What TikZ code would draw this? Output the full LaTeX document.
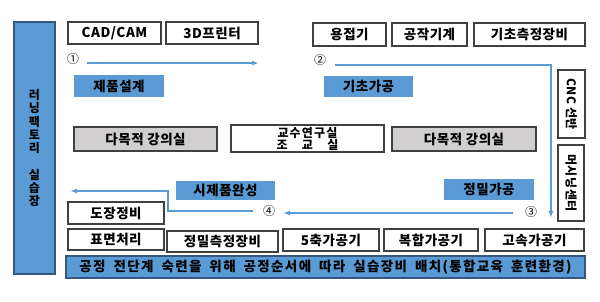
\documentclass[tikz,border=0pt]{standalone}
\usepackage{fontspec}
\setmainfont{Noto Sans CJK KR}[LetterSpace=4]
\newfontfamily\spreadfont{Noto Sans CJK KR}[LetterSpace=10]
\newfontfamily\bannerfont{Noto Sans CJK KR}[LetterSpace=10, WordSpace=1.8]
\usepackage{tikz}
\usetikzlibrary{arrows.meta}

\definecolor{stageblue}{RGB}{91,155,213}
\definecolor{hallgray}{RGB}{208,206,206}
\definecolor{edgegray}{RGB}{64,64,64}
\definecolor{bardark}{RGB}{56,87,128}

\begin{document}
\begin{tikzpicture}[x=1pt, y=-1pt,
    every node/.style={inner sep=0pt, font=\fontsize{13.5}{14}\selectfont\bfseries},
    equip/.style={draw=edgegray, line width=1.1pt, fill=white},
    hall/.style={draw=edgegray, line width=1.1pt, fill=hallgray},
    stage/.style={fill=stageblue},
    banner/.style={draw=bardark, line width=1.1pt, fill=stageblue},
    stepnum/.style={font=\fontsize{12}{12}\selectfont},
    flow/.style={draw=stageblue, line width=1.4pt, -{Latex[length=7pt, width=5pt]}}]
    \useasboundingbox (0,0) rectangle (600,301);

    % Left column
    \node[banner, minimum width=41, minimum height=252, align=center,
          font=\fontsize{12}{13.25}\selectfont\bfseries] (lab) at (34.5,148)
        {러\\닝\\팩\\토\\리\\ \\실\\습\\장};

    % Top row equipment
    \node[equip, minimum width=93, minimum height=22] (cad) at (114.5,33) {CAD/CAM};
    \node[equip, minimum width=92, minimum height=22] (printer) at (212,33) {3D프린터};
    \node[equip, minimum width=73, minimum height=23] (weld) at (349.5,34.5) {용접기};
    \node[equip, minimum width=75, minimum height=23] (machine) at (429.5,34.5) {공작기계};
    \node[equip, minimum width=111, minimum height=23] (basicmeas) at (529.5,34.5) {기초측정장비};

    % Stage labels
    \node[stage, minimum width=90, minimum height=22] (design) at (119,86) {제품설계};
    \node[stage, minimum width=89, minimum height=21] (basic) at (368.5,86.5) {기초가공};
    \node[stage, minimum width=90, minimum height=21] (precise) at (489,189.5) {정밀가공};
    \node[stage, minimum width=99, minimum height=19] (proto) at (225.5,190.5) {시제품완성};

    % Right column
    \node[equip, minimum width=27, minimum height=68] (cnc) at (571.5,104) {};
    \node[rotate=-90, font=\fontsize{12}{12}\selectfont\bfseries] at (cnc.center) {CNC 선반};
    \node[equip, minimum width=26, minimum height=76] (mct) at (571,183) {};
    \node[rotate=-90, font=\fontsize{12}{12}\selectfont\bfseries] at (mct.center) {머시닝센터};

    % Middle rooms
    \node[hall, minimum width=143, minimum height=24] (hallL) at (145.5,139) {다목적 강의실};
    \node[equip, minimum width=153, minimum height=27, align=center,
          font=\spreadfont\fontsize{12}{12}\selectfont\bfseries] (prof) at (307.5,138.5) {교수연구실\\조　교　실};
    \node[hall, minimum width=144, minimum height=24] (hallR) at (464,139) {다목적 강의실};

    % Bottom rows
    \node[equip, minimum width=96, minimum height=22] (paint) at (116,213) {도장정비};
    \node[equip, minimum width=96, minimum height=21] (surface) at (116,239.5) {표면처리};
    \node[equip, minimum width=111, minimum height=21] (finemeas) at (222.5,241.5) {정밀측정장비};
    \node[equip, minimum width=96, minimum height=22] (fiveaxis) at (331,240) {5축가공기};
    \node[equip, minimum width=94, minimum height=22] (multi) at (431,240) {복합가공기};
    \node[equip, minimum width=99, minimum height=22] (speed) at (534.5,240) {고속가공기};
    \node[banner, minimum width=519, minimum height=22,
          font=\bannerfont\fontsize{13.5}{14}\selectfont\bfseries] (note) at (325.5,267)
        {공정 전단계 숙련을 위해 공정순서에 따라 실습장비 배치(통합교육 훈련환경)};

    % Step numbers
    \node[stepnum] (n1) at (73,59) {①};
    \node[stepnum] (n2) at (320,60) {②};
    \node[stepnum] (n3) at (531,212) {③};
    \node[stepnum] (n4) at (269,211) {④};

    % Flow path
    \coordinate (a1s) at (87,63);
    \coordinate (a1e) at (259,63);
    \coordinate (a2s) at (335,65);
    \coordinate (a2c) at (551,65);
    \coordinate (a2e) at (551,218);
    \coordinate (a3s) at (513,213);
    \coordinate (a3e) at (283,213);
    \coordinate (a4s) at (253,211);
    \coordinate (a4e) at (70,191);
    \draw[flow] (a1s) -- (a1e);
    \draw[flow] (a2s) -- (a2c) -- (a2e);
    \draw[flow] (a3s) -- (a3e);
    \draw[flow] (a4s) -- (168,211) -- (168,191) -- (a4e);
\end{tikzpicture}
\end{document}
